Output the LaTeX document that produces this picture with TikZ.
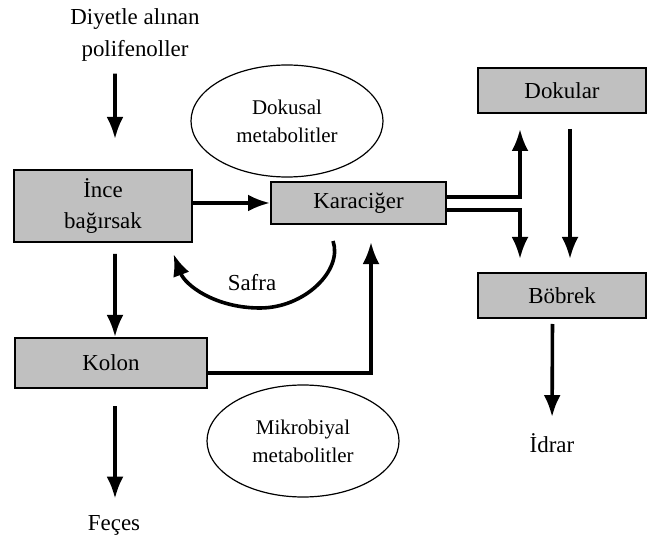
\documentclass[tikz,border=0pt]{standalone}
\usepackage{fontspec}
\setmainfont{Liberation Serif}
\usepackage{tikz}
\usetikzlibrary{arrows.meta,shapes.geometric}
\definecolor{kutugri}{HTML}{C0C0C0}

\begin{document}
\begin{tikzpicture}[x=0.5bp, y=-0.5bp,
    kutu/.style={draw, line width=1bp, fill=kutugri, inner sep=0pt, align=center,
                 font=\fontsize{11.5}{16}\selectfont},
    balon/.style={draw, ellipse, line width=0.6bp, inner sep=0pt, align=center,
                  minimum width=96bp, minimum height=56bp,
                  font=\fontsize{10.5}{14}\selectfont},
    yazi/.style={inner sep=0pt, align=center, font=\fontsize{11.5}{16}\selectfont},
    ok/.style={-{Latex[length=11bp,width=8.5bp]}, line width=1.8bp}]
    \useasboundingbox (0,0) rectangle (648,537);

    % Start
    \node[yazi] (diyet) at (135,35) {Diyetle alınan\\polifenoller};

    % Boxes
    \node[kutu, minimum width=88.5bp, minimum height=36bp] (ince) at (103,206) {İnce\\bağırsak};
    \node[kutu, minimum width=96bp, minimum height=25bp] (kolon) at (111,363) {Kolon};
    \node[kutu, minimum width=87.5bp, minimum height=21bp] (karaciger) at (358.5,203) {Karaciğer};
    \node[kutu, minimum width=84bp, minimum height=22.5bp] (dokular) at (562,90.5) {Dokular};
    \node[kutu, minimum width=84bp, minimum height=22.5bp] (bobrek) at (562,295.5) {Böbrek};

    % Ellipses
    \node[balon] (dokusal) at (287,121) {Dokusal\\metabolitler};
    \node[balon] (mikro) at (303,441) {Mikrobiyal\\metabolitler};

    % End texts
    \node[yazi] (feces) at (114,525) {Feçes};
    \node[yazi] (idrar) at (552,443) {İdrar};
    \node[yazi] (safra) at (252,283) {Safra};

    % Arrows on the left
    \draw[ok, shorten <=6bp, shorten >=15bp] ([xshift=-10bp]diyet.south) -- ([xshift=6bp]ince.north);
    \draw[ok, shorten <=5.5bp] ([xshift=6bp]ince.south) -- ([xshift=2bp]kolon.north);
    \draw[ok, shorten <=8.5bp, shorten >=8bp] ([xshift=2bp]kolon.south) -- ([xshift=0.5bp]feces.north);

    % Into the liver
    \draw[ok] (ince.east |- karaciger.west) -- (karaciger.west);
    \draw[ok, shorten >=8.5bp] ([yshift=-5bp]kolon.east) -| ([xshift=6.25bp]karaciger.south);

    % Bile
    \coordinate (safrabas) at ([xshift=-12.75bp,yshift=-8bp]karaciger.south);
    \coordinate (safrauc) at ([xshift=-9.5bp,yshift=-5.5bp]ince.south east);
    \draw[ok] (safrabas) .. controls (343,270) and (305,308) .. (260,308)
        .. controls (215,308) and (185,285) .. (safrauc);

    % Out of the liver
    \draw[ok, shorten >=7.5bp] ([yshift=3bp]karaciger.east) -| ([xshift=-21bp]dokular.south);
    \draw[ok, shorten >=6.5bp] ([yshift=-3.5bp]karaciger.east) -| ([xshift=-21bp]bobrek.north);
    \draw[ok, shorten <=7.5bp, shorten >=6.5bp] ([xshift=4bp]dokular.south) -- ([xshift=4bp]bobrek.north);
    \draw[ok, shorten <=2.5bp, shorten >=8bp] ([xshift=-4.75bp]bobrek.south) -- (idrar.north);
\end{tikzpicture}
\end{document}
